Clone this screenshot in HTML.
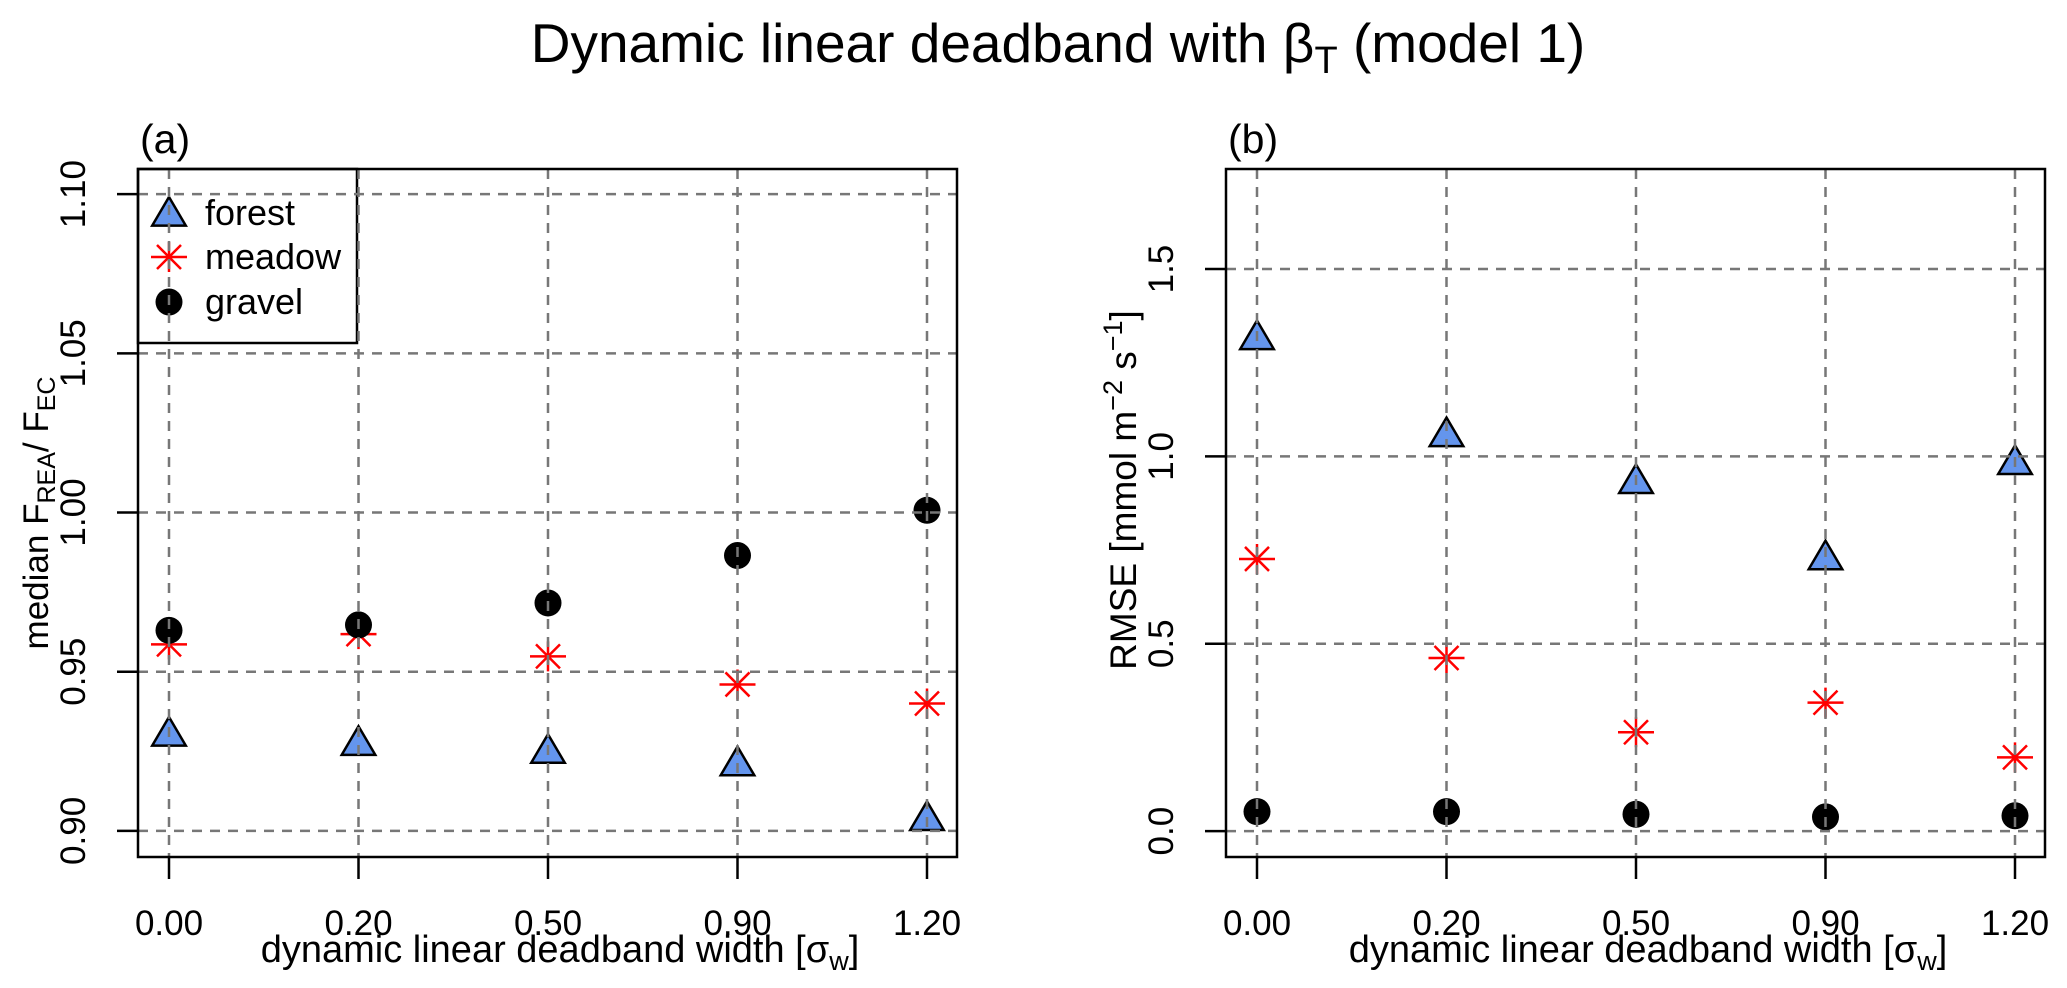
<!DOCTYPE html>
<html><head><meta charset="utf-8"><style>
html,body{margin:0;padding:0;background:#fff;}
svg{display:block;font-family:"Liberation Sans",Arial,sans-serif;}
</style></head><body>
<svg id="chart" width="2067" height="988" viewBox="0 0 2067 988" xmlns="http://www.w3.org/2000/svg">
<text x="1058" y="62" font-size="55" text-anchor="middle">Dynamic linear deadband with β<tspan font-size="38" dy="11">T</tspan><tspan dy="-11"> (model 1)</tspan></text>
<g id="pa"></g>
<g id="pb"></g>
</svg>
<script>
const categories = ["0.00","0.20","0.50","0.90","1.20"];
const aForest = [0.9298,0.9269,0.9244,0.9205,0.9033];
const aMeadow = [0.9586,0.9618,0.9548,0.946,0.94];
const aGravel = [0.963,0.9647,0.9716,0.9865,1.0007];
const aTicks = [0.90,0.95,1.00,1.05,1.10];
const aTickLabels = ["0.90","0.95","1.00","1.05","1.10"];
const bForest = [1.312,1.053,0.928,0.7245,0.9786];
const bMeadow = [0.7264,0.462,0.264,0.343,0.197];
const bGravel = [0.052,0.052,0.045,0.038,0.041];
const bTicks = [0.0,0.5,1.0,1.5];
const bTickLabels = ["0.0","0.5","1.0","1.5"];

const NS="http://www.w3.org/2000/svg";
function mk(parent,tag,attrs){const e=document.createElementNS(NS,tag);for(const k in attrs)e.setAttribute(k,attrs[k]);parent.appendChild(e);return e;}

function triangle(g,cx,cy){
  return mk(g,'polygon',{points:`${cx},${cy-19} ${cx+16.8},${cy+9.6} ${cx-16.8},${cy+9.6}`,fill:'#6495ED',stroke:'#000','stroke-width':2.5,'stroke-linejoin':'miter'});
}
function star(g,cx,cy){
  return mk(g,'path',{d:`M${cx-18},${cy}H${cx+18}M${cx},${cy-15}V${cy+15}M${cx-12},${cy-12}L${cx+12},${cy+12}M${cx-12},${cy+12}L${cx+12},${cy-12}`,stroke:'#ff0000','stroke-width':2.5,fill:'none'});
}
function dot(g,cx,cy){
  return mk(g,'circle',{cx:cx,cy:cy,r:13.5,fill:'#000'});
}

function panel(gid,L,T,R,B,vmin,vmax,ticks,tickLabels,forest,meadow,gravel,label,legend){
  const g=document.getElementById(gid);
  const x0=L+31, dx=189.5;
  const xs=i=>x0+i*dx;
  const ys=v=>B-(v-vmin)/(vmax-vmin)*(B-T);
  if(legend){
    const lg=mk(g,'g',{});
    
    
    mk(lg,'rect',{x:L,y:T,width:219,height:174,fill:'none',stroke:'#000','stroke-width':2.5});
    const names=["forest","meadow","gravel"], ry=[213,257,302];
    const fns=[triangle,star,dot];
    names.forEach((n,i)=>{
      const e=mk(lg,'g',{});
      
      
      fns[i](e,xs(0),ry[i]+(i==0?3:0));
      const t=mk(e,'text',{x:205,y:ry[i]+12,'font-size':36});
      t.textContent=n;
    });
  }
  const series=[["forest",forest,triangle],["meadow",meadow,star],["gravel",gravel,dot]];
  series.forEach(([n,arr,fn])=>{
    const sg=mk(g,'g',{});
    
    
    arr.forEach((v,i)=>{
      const m=fn(sg,xs(i),ys(v));
      
      
    });
  });
  const gg=mk(g,'g',{stroke:'#777','stroke-width':2.5,'stroke-dasharray':'10 8',fill:'none'});
  
  
  categories.forEach((c,i)=>mk(gg,'line',{x1:xs(i),x2:xs(i),y1:T,y2:B}));
  ticks.forEach(v=>mk(gg,'line',{x1:L,x2:R,y1:ys(v),y2:ys(v)}));
  const box=mk(g,'rect',{x:L,y:T,width:R-L,height:B-T,fill:'none',stroke:'#000','stroke-width':2.5});
  
  
  const xa=mk(g,'g',{});
  
  
  categories.forEach((c,i)=>{
    mk(xa,'line',{x1:xs(i),x2:xs(i),y1:B,y2:B+22,stroke:'#000','stroke-width':2.5});
    const t=mk(xa,'text',{x:xs(i),y:935,'font-size':35,'text-anchor':'middle'});
    t.textContent=c;
  });
  const ya=mk(g,'g',{});
  
  
  ticks.forEach((v,i)=>{
    mk(ya,'line',{x1:L-21,x2:L,y1:ys(v),y2:ys(v),stroke:'#000','stroke-width':2.5});
    const t=mk(ya,'text',{x:0,y:0,'font-size':35,'text-anchor':'middle',transform:`translate(${L-53},${ys(v)}) rotate(-90)`});
    t.textContent=tickLabels[i];
  });
  const pl=mk(g,'text',{x:L+2,y:153,'font-size':41});
  pl.textContent=label;
  
  
}
panel('pa',138,169,957,857,0.8918,1.1079,aTicks,aTickLabels,aForest,aMeadow,aGravel,'(a)',true);
panel('pb',1226,169,2045,857,-0.069,1.767,bTicks,bTickLabels,bForest,bMeadow,bGravel,'(b)',false);

const svg=document.getElementById('chart');
function xtitle(cx){
  const t=mk(svg,'text',{x:cx,y:962,'font-size':38,'text-anchor':'middle'});
  t.innerHTML='dynamic linear deadband width [σ<tspan font-size="27" dy="8">w</tspan><tspan dy="-8">]</tspan>';
  
  
}
xtitle(560); xtitle(1648);
const ya=mk(svg,'text',{x:0,y:0,'font-size':35,'text-anchor':'middle',transform:'translate(48,513) rotate(-90)'});
ya.innerHTML='median F<tspan font-size="25" dy="7">REA</tspan><tspan dy="-7">/ F</tspan><tspan font-size="25" dy="7">EC</tspan>';


const yb=mk(svg,'text',{x:0,y:0,'font-size':37,'text-anchor':'middle',transform:'translate(1136,490) rotate(-90)'});
yb.innerHTML='RMSE [mmol m<tspan font-size="27" dy="-14">−2</tspan><tspan dy="14"> s</tspan><tspan font-size="27" dy="-14">−1</tspan><tspan dy="14">]</tspan>';


</script>
</body></html>
